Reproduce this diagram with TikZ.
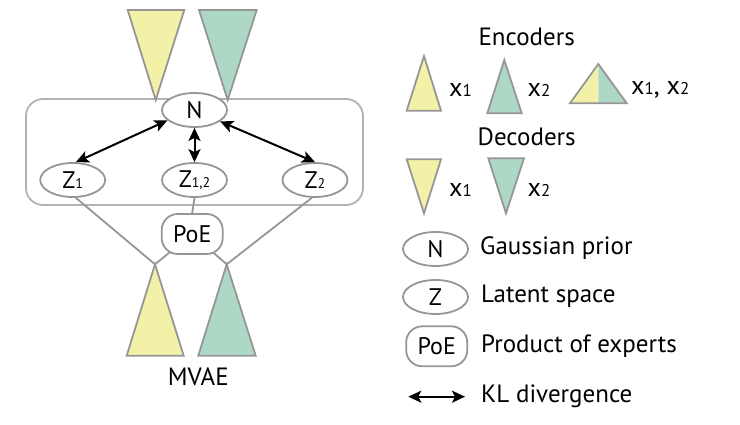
\documentclass[tikz,border=0pt]{standalone}
\usepackage{fontspec}
\setmainfont{PT Sans}
\usetikzlibrary{shapes.geometric,arrows.meta,backgrounds}
\definecolor{yel}{RGB}{243,240,168}
\definecolor{grn}{RGB}{174,216,198}
\definecolor{edge}{RGB}{150,150,150}
\definecolor{framec}{RGB}{178,178,178}
\newcommand\smalldig[1]{{\fontsize{14}{14}\selectfont #1}}
\newcommand\legdig[1]{{\fontsize{17}{17}\selectfont #1}}
\tikzset{
  ell/.style={ellipse,draw=edge,line width=1.8pt,fill=white,minimum width=65pt,minimum height=34pt,inner sep=0pt,font=\fontsize{24}{24}\selectfont},
  poebox/.style={rectangle,rounded corners=16pt,draw=edge,line width=1.8pt,fill=white,minimum width=61pt,minimum height=40pt,inner sep=0pt,font=\fontsize{24}{24}\selectfont},
  tri/.style={draw=edge,line width=1.8pt,line join=miter},
  conn/.style={draw=edge,line width=1.8pt},
  kl/.style={black,line width=2pt,{Stealth[length=13pt,width=12pt,inset=3pt]}-{Stealth[length=13pt,width=12pt,inset=3pt]}},
  lab/.style={font=\fontsize{25}{25}\selectfont,inner sep=0pt},
  leglab/.style={lab,anchor=west},
  xlab/.style={anchor=west,inner sep=0pt,font=\fontsize{26}{26}\selectfont},
}
\begin{document}
\begin{tikzpicture}[x=1pt,y=-1pt]
\useasboundingbox (0,0) rectangle (740,425);
% frame
\node[draw=framec,line width=1.8pt,rounded corners=17pt,minimum width=337pt,minimum height=106pt,inner sep=0pt] (frame) at (194.5,152) {};
% top decoders
\draw[tri,fill=yel] (127.7,10) -- (184.3,10) -- (155.7,100) -- cycle;
\draw[tri,fill=grn] (199,10) -- (256.7,10) -- (227.7,100) -- cycle;
% nodes
\node[ell] (N) at (194.5,110) {N};
\node[ell] (Z1) at (72.7,180) {Z\smalldig{1}};
\node[ell] (Z12) at (194.5,180) {Z\smalldig{1,2}};
\node[ell] (Z2) at (315,180) {Z\smalldig{2}};
\node[poebox] (PoE) at (192.2,234) {PoE};
% bottom encoders
\coordinate (ya) at (155,264.3);
\coordinate (ga) at (226.7,264.3);
\draw[tri,fill=yel] (ya) -- (183.7,355.7) -- (126.7,355.7) -- cycle;
\draw[tri,fill=grn] (ga) -- (255.7,355.7) -- (198.3,355.7) -- cycle;
\begin{scope}[on background layer]
\draw[conn] (ya) -- (PoE.center);
\draw[conn] (ga) -- (PoE.center);
\end{scope}
\draw[conn] (Z1.-80) -- (ya);
\draw[conn] (Z2.-100) -- (ga);
\draw[conn] (Z12.south) -- (PoE.north);
% KL arrows
\draw[kl] (N.201) -- (Z1.80);
\draw[kl] (N.south) -- (Z12.north);
\draw[kl] (N.-24) -- (Z2.north);
\node[lab] (mvae) at (198.3,376.7) {MVAE};
% legend
\node[lab] (enc) at (526.7,37.3) {Encoders};
\draw[tri,fill=yel] (424,56) -- (441,110.7) -- (406.7,110.7) -- cycle;
\node[xlab] (lx1) at (449,90) {x\legdig{1}};
\draw[tri,fill=grn] (504.3,60) -- (521.7,113.3) -- (487.3,113.3) -- cycle;
\node[xlab] (lx2) at (527.5,90) {x\legdig{2}};
\fill[yel] (598.3,64) -- (598.3,103.3) -- (570,103.3) -- cycle;
\fill[grn] (598.3,64) -- (626.7,103.3) -- (598.3,103.3) -- cycle;
\draw[tri] (598.3,64) -- (626.7,103.3) -- (570,103.3) -- cycle;
\node[xlab] (lx12) at (631,90) {x\legdig{1}, x\legdig{2}};
\node[lab] (dec) at (526.7,136.7) {Decoders};
\draw[tri,fill=yel] (406.7,159.3) -- (441,159.3) -- (424,213.3) -- cycle;
\node[xlab] (dx1) at (449,190) {x\legdig{1}};
\draw[tri,fill=grn] (488.3,158.3) -- (524,158.3) -- (506,213.3) -- cycle;
\node[xlab] (dx2) at (527.5,190) {x\legdig{2}};
\node[ell] (lN) at (435.5,249) {N};
\node[leglab] (tN) at (480,248.5) {Gaussian prior};
\node[ell] (lZ) at (435.5,297) {Z};
\node[leglab] (tZ) at (481,296) {Latent space};
\node[poebox] (lP) at (436.7,346.3) {PoE};
\node[leglab] (tP) at (481,345.7) {Product of experts};
\coordinate (kla) at (408.3,396.7);
\coordinate (klb) at (465,396.7);
\draw[kl] (kla) -- (klb);
\node[leglab] (tK) at (481,396.5) {KL divergence};
\end{tikzpicture}
\end{document}
